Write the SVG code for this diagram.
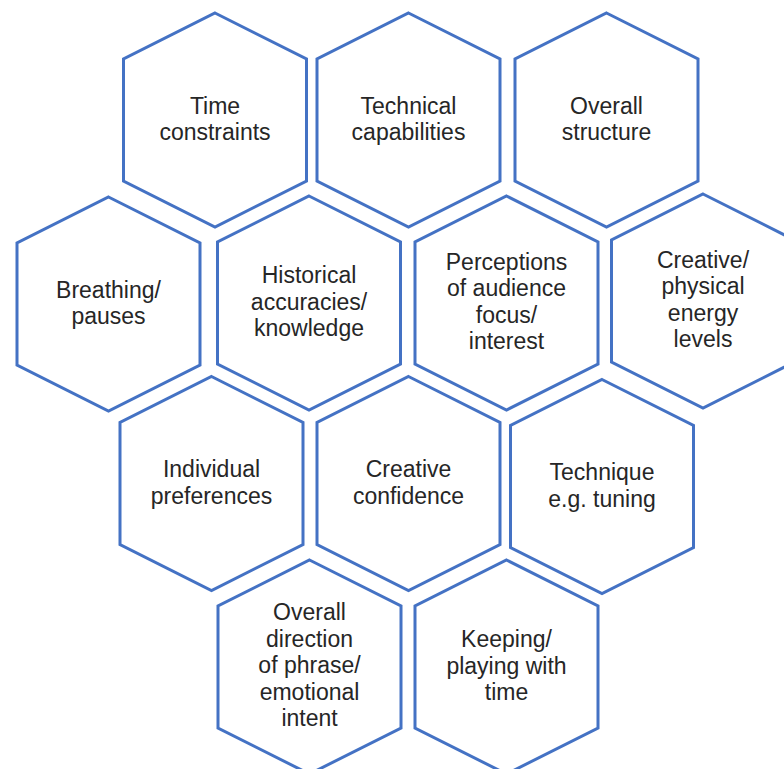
<svg xmlns="http://www.w3.org/2000/svg" xmlns:xlink="http://www.w3.org/1999/xlink" width="784" height="769" viewBox="0 0 784 769">
<style>
.hex{fill:#ffffff;stroke:#4472C4;stroke-width:3;stroke-linejoin:miter}
.t{font-family:"Liberation Sans","Noto Sans",Arial,sans-serif;font-size:23px;fill:#262626;text-anchor:middle}
</style>
<defs>
<polygon id="hx" class="hex" points="0,-107 91.5,-61 91.5,61 0,107 -91.5,61 -91.5,-61"/>
</defs>
<rect width="784" height="769" fill="#ffffff"/>

<g id="time-constraints" transform="translate(215,120)">
<use xlink:href="#hx" href="#hx"/>
<text class="t"><tspan x="0" y="-6.5">Time</tspan><tspan x="0" y="20">constraints</tspan></text>
</g>
<g id="technical-capabilities" transform="translate(408.5,120)">
<use xlink:href="#hx" href="#hx"/>
<text class="t"><tspan x="0" y="-6.5">Technical</tspan><tspan x="0" y="20">capabilities</tspan></text>
</g>
<g id="overall-structure" transform="translate(606.5,120)">
<use xlink:href="#hx" href="#hx"/>
<text class="t"><tspan x="0" y="-6.5">Overall</tspan><tspan x="0" y="20">structure</tspan></text>
</g>

<g id="breathing" transform="translate(108.5,304)">
<use xlink:href="#hx" href="#hx"/>
<text class="t"><tspan x="0" y="-6.5">Breathing/</tspan><tspan x="0" y="20">pauses</tspan></text>
</g>
<g id="historical" transform="translate(309,303)">
<use xlink:href="#hx" href="#hx"/>
<text class="t"><tspan x="0" y="-20">Historical</tspan><tspan x="0" y="6.5">accuracies/</tspan><tspan x="0" y="33">knowledge</tspan></text>
</g>
<g id="perceptions" transform="translate(506.5,303)">
<use xlink:href="#hx" href="#hx"/>
<text class="t"><tspan x="0" y="-33.5">Perceptions</tspan><tspan x="0" y="-7">of audience</tspan><tspan x="0" y="19.5">focus/</tspan><tspan x="0" y="46">interest</tspan></text>
</g>
<g id="creative-physical" transform="translate(703,301)">
<use xlink:href="#hx" href="#hx"/>
<text class="t"><tspan x="0" y="-33.5">Creative/</tspan><tspan x="0" y="-7">physical</tspan><tspan x="0" y="19.5">energy</tspan><tspan x="0" y="46">levels</tspan></text>
</g>

<g id="individual-preferences" transform="translate(211.5,483.5)">
<use xlink:href="#hx" href="#hx"/>
<text class="t"><tspan x="0" y="-6.5">Individual</tspan><tspan x="0" y="20">preferences</tspan></text>
</g>
<g id="creative-confidence" transform="translate(408.5,483.5)">
<use xlink:href="#hx" href="#hx"/>
<text class="t"><tspan x="0" y="-6.5">Creative</tspan><tspan x="0" y="20">confidence</tspan></text>
</g>
<g id="technique" transform="translate(602,486.5)">
<use xlink:href="#hx" href="#hx"/>
<text class="t"><tspan x="0" y="-6.5">Technique</tspan><tspan x="0" y="20">e.g. tuning</tspan></text>
</g>

<g id="overall-direction" transform="translate(309.5,667)">
<use xlink:href="#hx" href="#hx"/>
<text class="t"><tspan x="0" y="-47">Overall</tspan><tspan x="0" y="-20.5">direction</tspan><tspan x="0" y="6">of phrase/</tspan><tspan x="0" y="32.5">emotional</tspan><tspan x="0" y="59">intent</tspan></text>
</g>
<g id="keeping" transform="translate(506.5,667)">
<use xlink:href="#hx" href="#hx"/>
<text class="t"><tspan x="0" y="-20">Keeping/</tspan><tspan x="0" y="6.5">playing with</tspan><tspan x="0" y="33">time</tspan></text>
</g>
</svg>
